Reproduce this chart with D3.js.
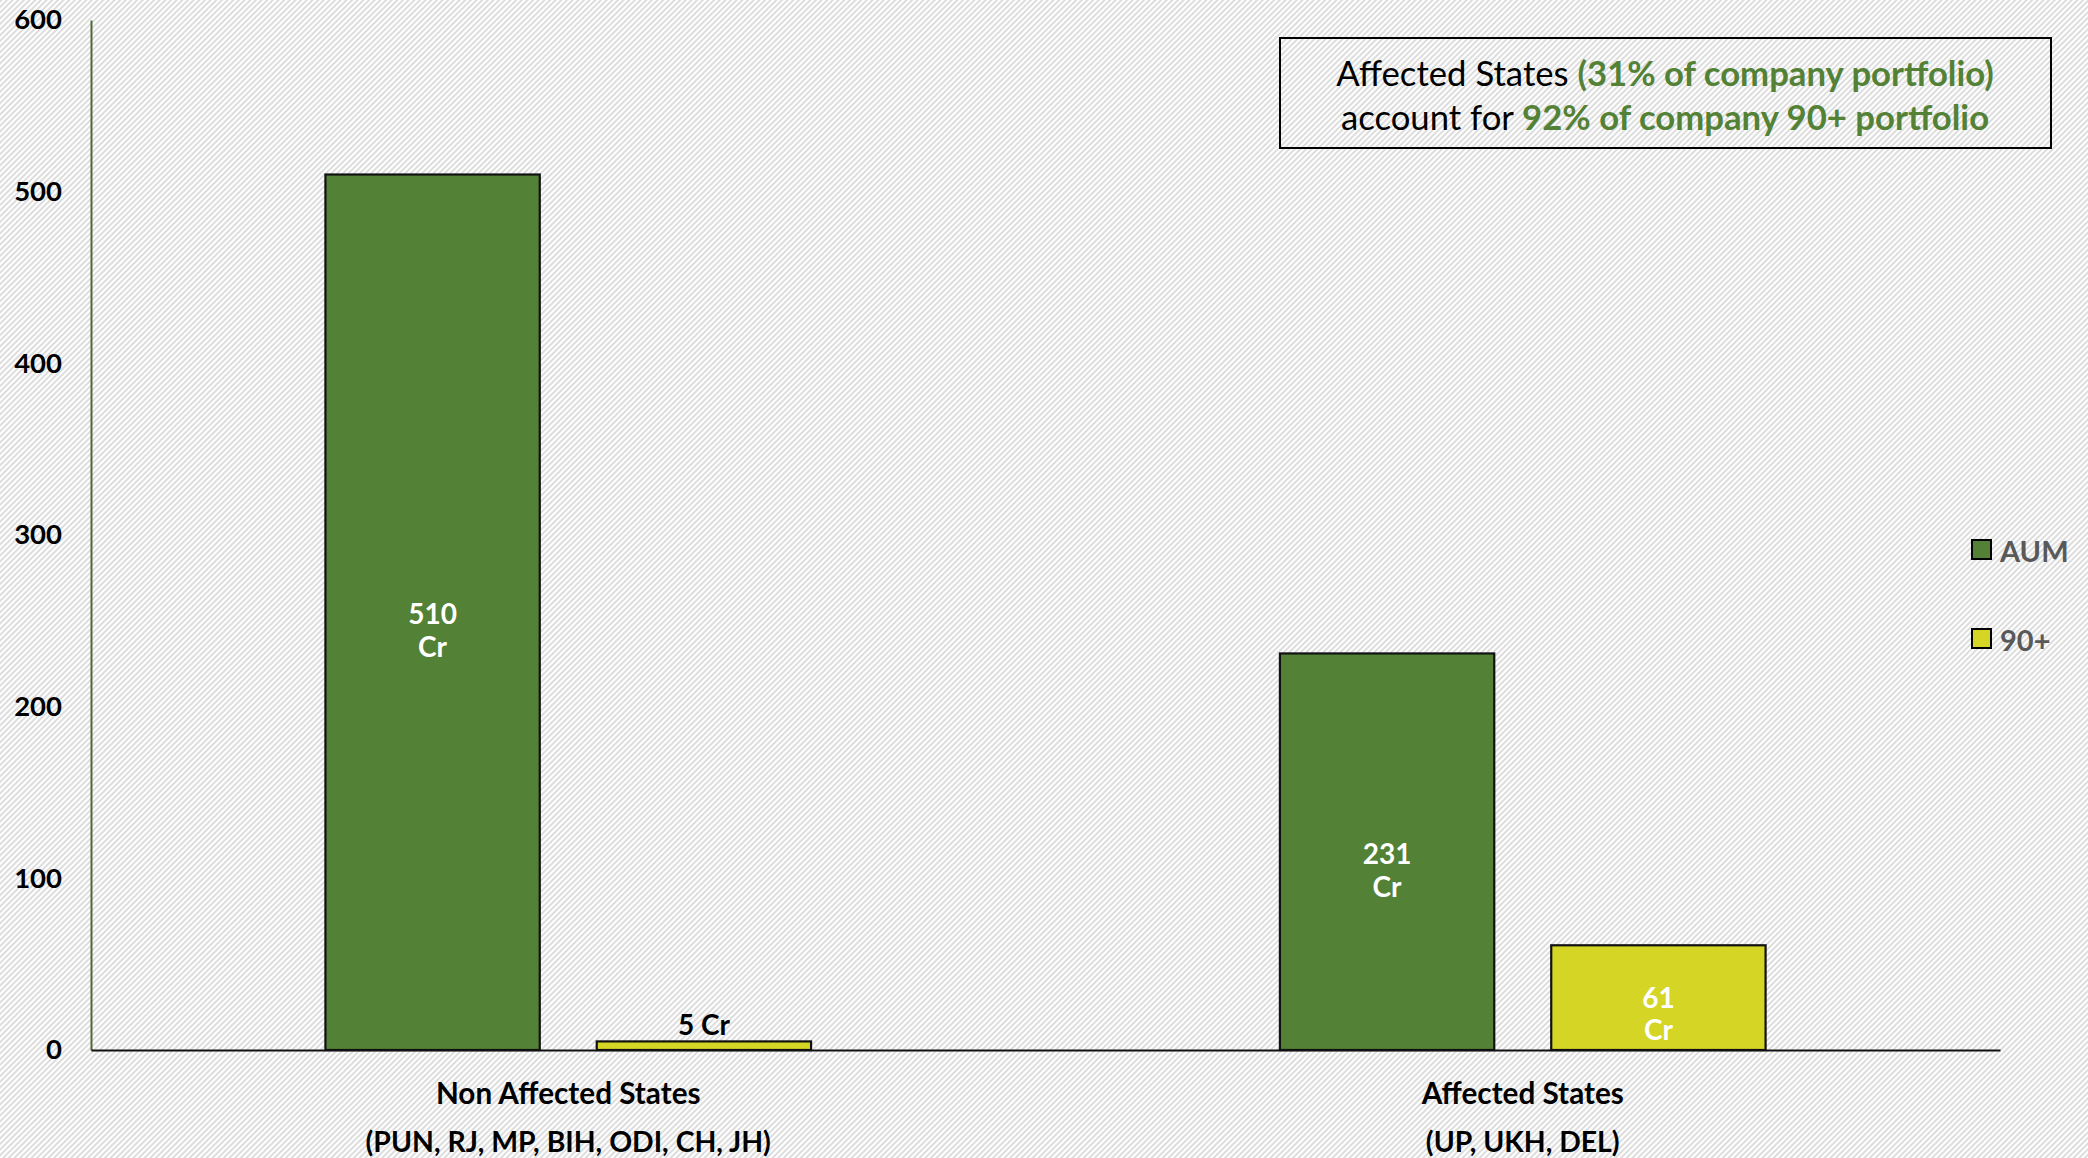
<!DOCTYPE html>
<html>
<head>
<meta charset="utf-8">
<script src="https://cdn.jsdelivr.net/npm/d3@7"></script>
<style>
html,body{margin:0;padding:0;background:#fff;}
svg{display:block;font-family:Lato,Carlito,sans-serif;}
</style>
</head>
<body>
<svg id="chart" width="2088" height="1158"></svg>
<script>
const categories = ["Non Affected States", "Affected States"];
const categorySubs = ["(PUN, RJ, MP, BIH, ODI, CH, JH)", "(UP, UKH, DEL)"];
const seriesNames = ["AUM", "90+"];
const aumValues = [510, 231];
const npaValues = [5, 61];
const yTicks = [0, 100, 200, 300, 400, 500, 600];
const noteLine1 = [["Affected States ", false], ["(31% of company portfolio)", true]];
const noteLine2 = [["account for ", false], ["92% of company 90+ portfolio", true]];

const colors = {"AUM": "#538135", "90+": "#d4d524"};
const svg = d3.select("#chart");
const W = 2088, H = 1158;
const FONT = "Lato,Carlito,sans-serif";

// background hatch
const defs = svg.append("defs");
const pat = defs.append("pattern").attr("id", "hatch").attr("patternUnits", "userSpaceOnUse")
  .attr("width", 4).attr("height", 4).attr("patternTransform", "rotate(45)");
pat.append("rect").attr("width", 4).attr("height", 4).attr("fill", "#ffffff");
pat.append("line").attr("x1", 1).attr("y1", 0).attr("x2", 1).attr("y2", 4)
  .attr("stroke", "#cfcfcf").attr("stroke-width", 1.4);
svg.append("rect").attr("width", W).attr("height", H).attr("fill", "url(#hatch)");

const x0 = d3.scaleBand().domain(categories).range([91, 2000]).padding(0);
const x1 = d3.scaleBand().domain(seriesNames).range([0, x0.bandwidth()])
  .paddingInner(0.21).paddingOuter(0.864);
const y = d3.scaleLinear().domain([0, 600]).range([1050, 20]);

const data = categories.map((c, i) => ({
  cat: c,
  vals: [{s: "AUM", v: aumValues[i]}, {s: "90+", v: npaValues[i]}]
}));

// y axis
const yAxis = svg.append("g").attr("transform", "translate(91,0)")
  .call(d3.axisLeft(y).tickValues(yTicks).tickSize(0).tickPadding(29).tickFormat(d3.format("d")));
yAxis.select(".domain").attr("stroke", "#4f6a31").attr("stroke-width", 2);
yAxis.selectAll("text").attr("font-size", 27.5).attr("font-weight", "bold").attr("fill", "#000")
  .attr("font-family", FONT);

// bars
const groups = svg.selectAll("g.grp").data(data).join("g").attr("class", "grp")
  .attr("transform", d => `translate(${x0(d.cat)},0)`);
groups.selectAll("rect").data(d => d.vals).join("rect")
  .attr("x", d => x1(d.s)).attr("width", x1.bandwidth())
  .attr("y", d => y(d.v)).attr("height", d => y(0) - y(d.v))
  .attr("fill", d => colors[d.s]).attr("stroke", "#111").attr("stroke-width", 2.2);

// bar labels
groups.each(function(d) {
  const g = d3.select(this);
  d.vals.forEach(v => {
    const cx = x1(v.s) + x1.bandwidth() / 2;
    const h = y(0) - y(v.v);
    if (h > 60) {
      const mid = (y(v.v) + y(0)) / 2;
      const small = h < 150;
      const t = g.append("text").attr("text-anchor", "middle").attr("fill", "#fff")
        .attr("font-size", 28).attr("font-weight", "bold");
      t.append("tspan").attr("x", cx).attr("y", mid + (small ? -1 : 1)).attr("dominant-baseline", "central").text(v.v);
      t.append("tspan").attr("x", cx).attr("y", mid + (small ? 31 : 34)).attr("dominant-baseline", "central").text("Cr");
    } else {
      g.append("text").attr("text-anchor", "middle").attr("fill", "#000")
        .attr("font-size", 28).attr("font-weight", "bold")
        .attr("x", cx).attr("y", y(v.v) - 17).attr("dominant-baseline", "central")
        .text(v.v + " Cr");
    }
  });
});

// x axis
const xAxis = svg.append("g").attr("transform", "translate(0,1050)")
  .call(d3.axisBottom(x0).tickSize(0).tickFormat(""));
xAxis.select(".domain").attr("stroke", "#111").attr("stroke-width", 2.2);
xAxis.selectAll(".tick").each(function(c, i) {
  const t = d3.select(this);
  t.select("text").remove();
  t.append("text").attr("text-anchor", "middle").attr("fill", "#000").attr("font-family", FONT)
    .attr("font-size", 29.7).attr("font-weight", "bold").attr("y", 42)
    .attr("dominant-baseline", "central").text(c);
  t.append("text").attr("text-anchor", "middle").attr("fill", "#000").attr("font-family", FONT)
    .attr("font-size", 28.4).attr("font-weight", "bold").attr("y", 91)
    .attr("dominant-baseline", "central").text(categorySubs[i]);
});

// note box
svg.append("rect").attr("x", 1280).attr("y", 38).attr("width", 771).attr("height", 110)
  .attr("fill", "none").attr("stroke", "#000").attr("stroke-width", 2);
[[noteLine1, 72], [noteLine2, 116]].forEach(([parts, yy]) => {
  const t = svg.append("text").attr("x", 1665).attr("y", yy).attr("text-anchor", "middle")
    .attr("dominant-baseline", "central").attr("font-size", 34.7);
  parts.forEach(([s, b]) => {
    t.append("tspan").attr("font-weight", b ? "bold" : "normal")
      .attr("fill", b ? "#538135" : "#000").text(s);
  });
});

// legend
const legY = [550, 639];
seriesNames.forEach((s, i) => {
  svg.append("rect").attr("x", 1972).attr("y", legY[i] - 10).attr("width", 19).attr("height", 19)
    .attr("fill", colors[s]).attr("stroke", "#000").attr("stroke-width", 2);
  svg.append("text").attr("x", 2000).attr("y", legY[i]).attr("dominant-baseline", "central")
    .attr("font-size", 29).attr("font-weight", "bold").attr("fill", "#595959").text(s);
});
</script>
</body>
</html>
